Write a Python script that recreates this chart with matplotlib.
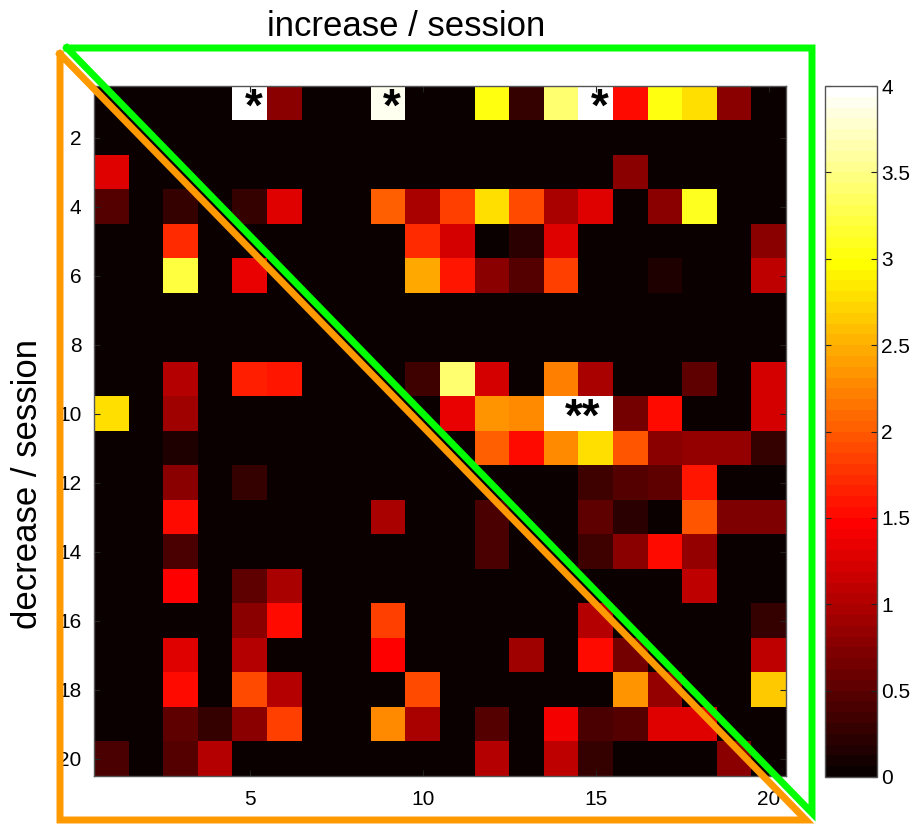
import numpy as np
import matplotlib
matplotlib.use('Agg')
import matplotlib.pyplot as plt
from matplotlib.lines import Line2D

plt.rcParams['font.family'] = ['Liberation Sans', 'DejaVu Sans']

# rows 1..20 (decrease / session), columns 1..20 (increase / session)
values = [
    [0, 0, 0, 0, 4.0, 0.75, 0, 0, 3.9, 0, 0, 3.0, 0.25, 3.4, 4.0, 1.5, 3.05, 2.8, 0.75, 0],
    [0, 0, 0, 0, 0, 0, 0, 0, 0, 0, 0, 0, 0, 0, 0, 0, 0, 0, 0, 0],
    [1.3, 0, 0, 0, 0, 0, 0, 0, 0, 0, 0, 0, 0, 0, 0, 0.75, 0, 0, 0, 0],
    [0.45, 0, 0.25, 0, 0.25, 1.3, 0, 0, 2.0, 0.95, 1.85, 2.8, 1.9, 0.95, 1.3, 0, 0.8, 3.1, 0, 0],
    [0, 0, 1.7, 0, 0, 0, 0, 0, 0, 1.7, 1.2, 0, 0.2, 1.3, 0, 0, 0, 0, 0, 0.75],
    [0, 0, 3.2, 0, 1.35, 0, 0, 0, 0, 2.45, 1.6, 0.75, 0.45, 1.85, 0, 0, 0.15, 0, 0, 1.1],
    [0, 0, 0, 0, 0, 0, 0, 0, 0, 0, 0, 0, 0, 0, 0, 0, 0, 0, 0, 0],
    [0, 0, 0, 0, 0, 0, 0, 0, 0, 0, 0, 0, 0, 0, 0, 0, 0, 0, 0, 0],
    [0, 0, 1.0, 0, 1.65, 1.6, 0, 0, 0, 0.35, 3.4, 1.2, 0, 2.2, 0.95, 0, 0, 0.55, 0, 1.2],
    [2.8, 0, 0.9, 0, 0, 0, 0, 0, 0, 0, 1.35, 2.35, 2.3, 4.0, 4.0, 0.65, 1.55, 0, 0, 1.2],
    [0, 0, 0.15, 0, 0, 0, 0, 0, 0, 0, 0, 2.0, 1.55, 2.3, 2.75, 1.95, 0.75, 0.85, 0.85, 0.25],
    [0, 0, 0.8, 0, 0.25, 0, 0, 0, 0, 0, 0, 0, 0, 0, 0.35, 0.45, 0.55, 1.6, 0, 0],
    [0, 0, 1.55, 0, 0, 0, 0, 0, 0.95, 0, 0, 0.4, 0, 0, 0.5, 0.2, 0, 1.95, 0.7, 0.7],
    [0, 0, 0.4, 0, 0, 0, 0, 0, 0, 0, 0, 0.4, 0, 0, 0.35, 0.75, 1.5, 0.85, 0, 0],
    [0, 0, 1.45, 0, 0.5, 0.95, 0, 0, 0, 0, 0, 0, 0, 0, 0, 0, 0, 1.1, 0, 0],
    [0, 0, 0, 0, 0.75, 1.55, 0, 0, 1.85, 0, 0, 0, 0, 0, 1.0, 0, 0, 0, 0, 0.25],
    [0, 0, 1.3, 0, 1.0, 0, 0, 0, 1.45, 0, 0, 0, 0.9, 0, 1.55, 0.65, 0, 0, 0, 1.1],
    [0, 0, 1.55, 0, 1.9, 1.0, 0, 0, 0, 1.9, 0, 0, 0, 0, 0, 2.35, 0.85, 0, 0, 2.65],
    [0, 0, 0.5, 0.3, 0.75, 1.85, 0, 0, 2.25, 0.95, 0, 0.45, 0, 1.4, 0.4, 0.45, 1.3, 1.3, 0, 0],
    [0.4, 0, 0.45, 1.05, 0, 0, 0, 0, 0, 0, 0, 1.05, 0, 1.1, 0.3, 0, 0, 0, 0.75, 0],
]

x_ticks = [5, 10, 15, 20]
y_ticks = [2, 4, 6, 8, 10, 12, 14, 16, 18, 20]
cbar_ticks = [0, 0.5, 1, 1.5, 2, 2.5, 3, 3.5, 4]
cbar_labels = ['0', '0.5', '1', '1.5', '2', '2.5', '3', '3.5', '4']

# significance marks: (column, row, text)
star_cols = [5, 9, 15, 14.5]
star_rows = [1, 1, 1, 10]
star_texts = ['*', '*', '*', '**']

W, H = 917, 824
fig = plt.figure(figsize=(W / 100, H / 100), dpi=100)

def fx(px):
    return px / W

def fy(py):
    return 1 - py / H

ax = fig.add_axes([fx(94), fy(776), fx(786) - fx(94), fy(86) - fy(776)])
cmap = plt.get_cmap('hot', 64)
im = ax.imshow(np.array(values), cmap=cmap, vmin=0, vmax=4, aspect='auto',
               interpolation='nearest', extent=(0.5, 20.5, 20.5, 0.5))
ax.set_xticks(x_ticks)
ax.set_yticks(y_ticks)
ax.tick_params(direction='in', length=4, width=0.8, labelsize=15,
               top=True, right=True, color='#222222')
ax.tick_params(axis='x', pad=10)
ax.tick_params(axis='y', pad=9)
for s in ax.spines.values():
    s.set_color('#555555')
    s.set_linewidth(1.0)

for c, r, t in zip(star_cols, star_rows, star_texts):
    ax.text(c + 0.12, r + 0.15, t, ha='center', va='center', fontsize=33,
            fontweight='bold', color='black')

# colorbar
cax = fig.add_axes([fx(825), fy(777), fx(877) - fx(825), fy(86) - fy(777)])
cb = fig.colorbar(im, cax=cax, ticks=cbar_ticks)
cb.set_ticklabels(cbar_labels)
cb.outline.set_edgecolor('#555555')
cb.outline.set_linewidth(1.0)
cax.tick_params(direction='in', length=4, width=0.8, labelsize=15, pad=3,
                left=True, right=True, color='#222222')

# axis titles
fig.text(fx(406), fy(26), 'increase / session', ha='center', va='center', fontsize=25)
fig.text(fx(28), fy(484), 'decrease / session', ha='center', va='center',
         fontsize=25, rotation=90)

# highlighted triangles
orange = [(60, 54), (60, 820), (806, 820), (60, 54)]
green = [(67, 48), (812, 48), (812, 813), (67, 48)]
for pts, col in [(orange, '#ff9900'), (green, '#00ff00')]:
    xs = [fx(p[0]) for p in pts]
    ys = [fy(p[1]) for p in pts]
    ln = Line2D(xs, ys, transform=fig.transFigure, color=col, linewidth=5,
                solid_joinstyle='miter', solid_capstyle='projecting')
    fig.add_artist(ln)

fig.savefig('out.png', dpi=100)
